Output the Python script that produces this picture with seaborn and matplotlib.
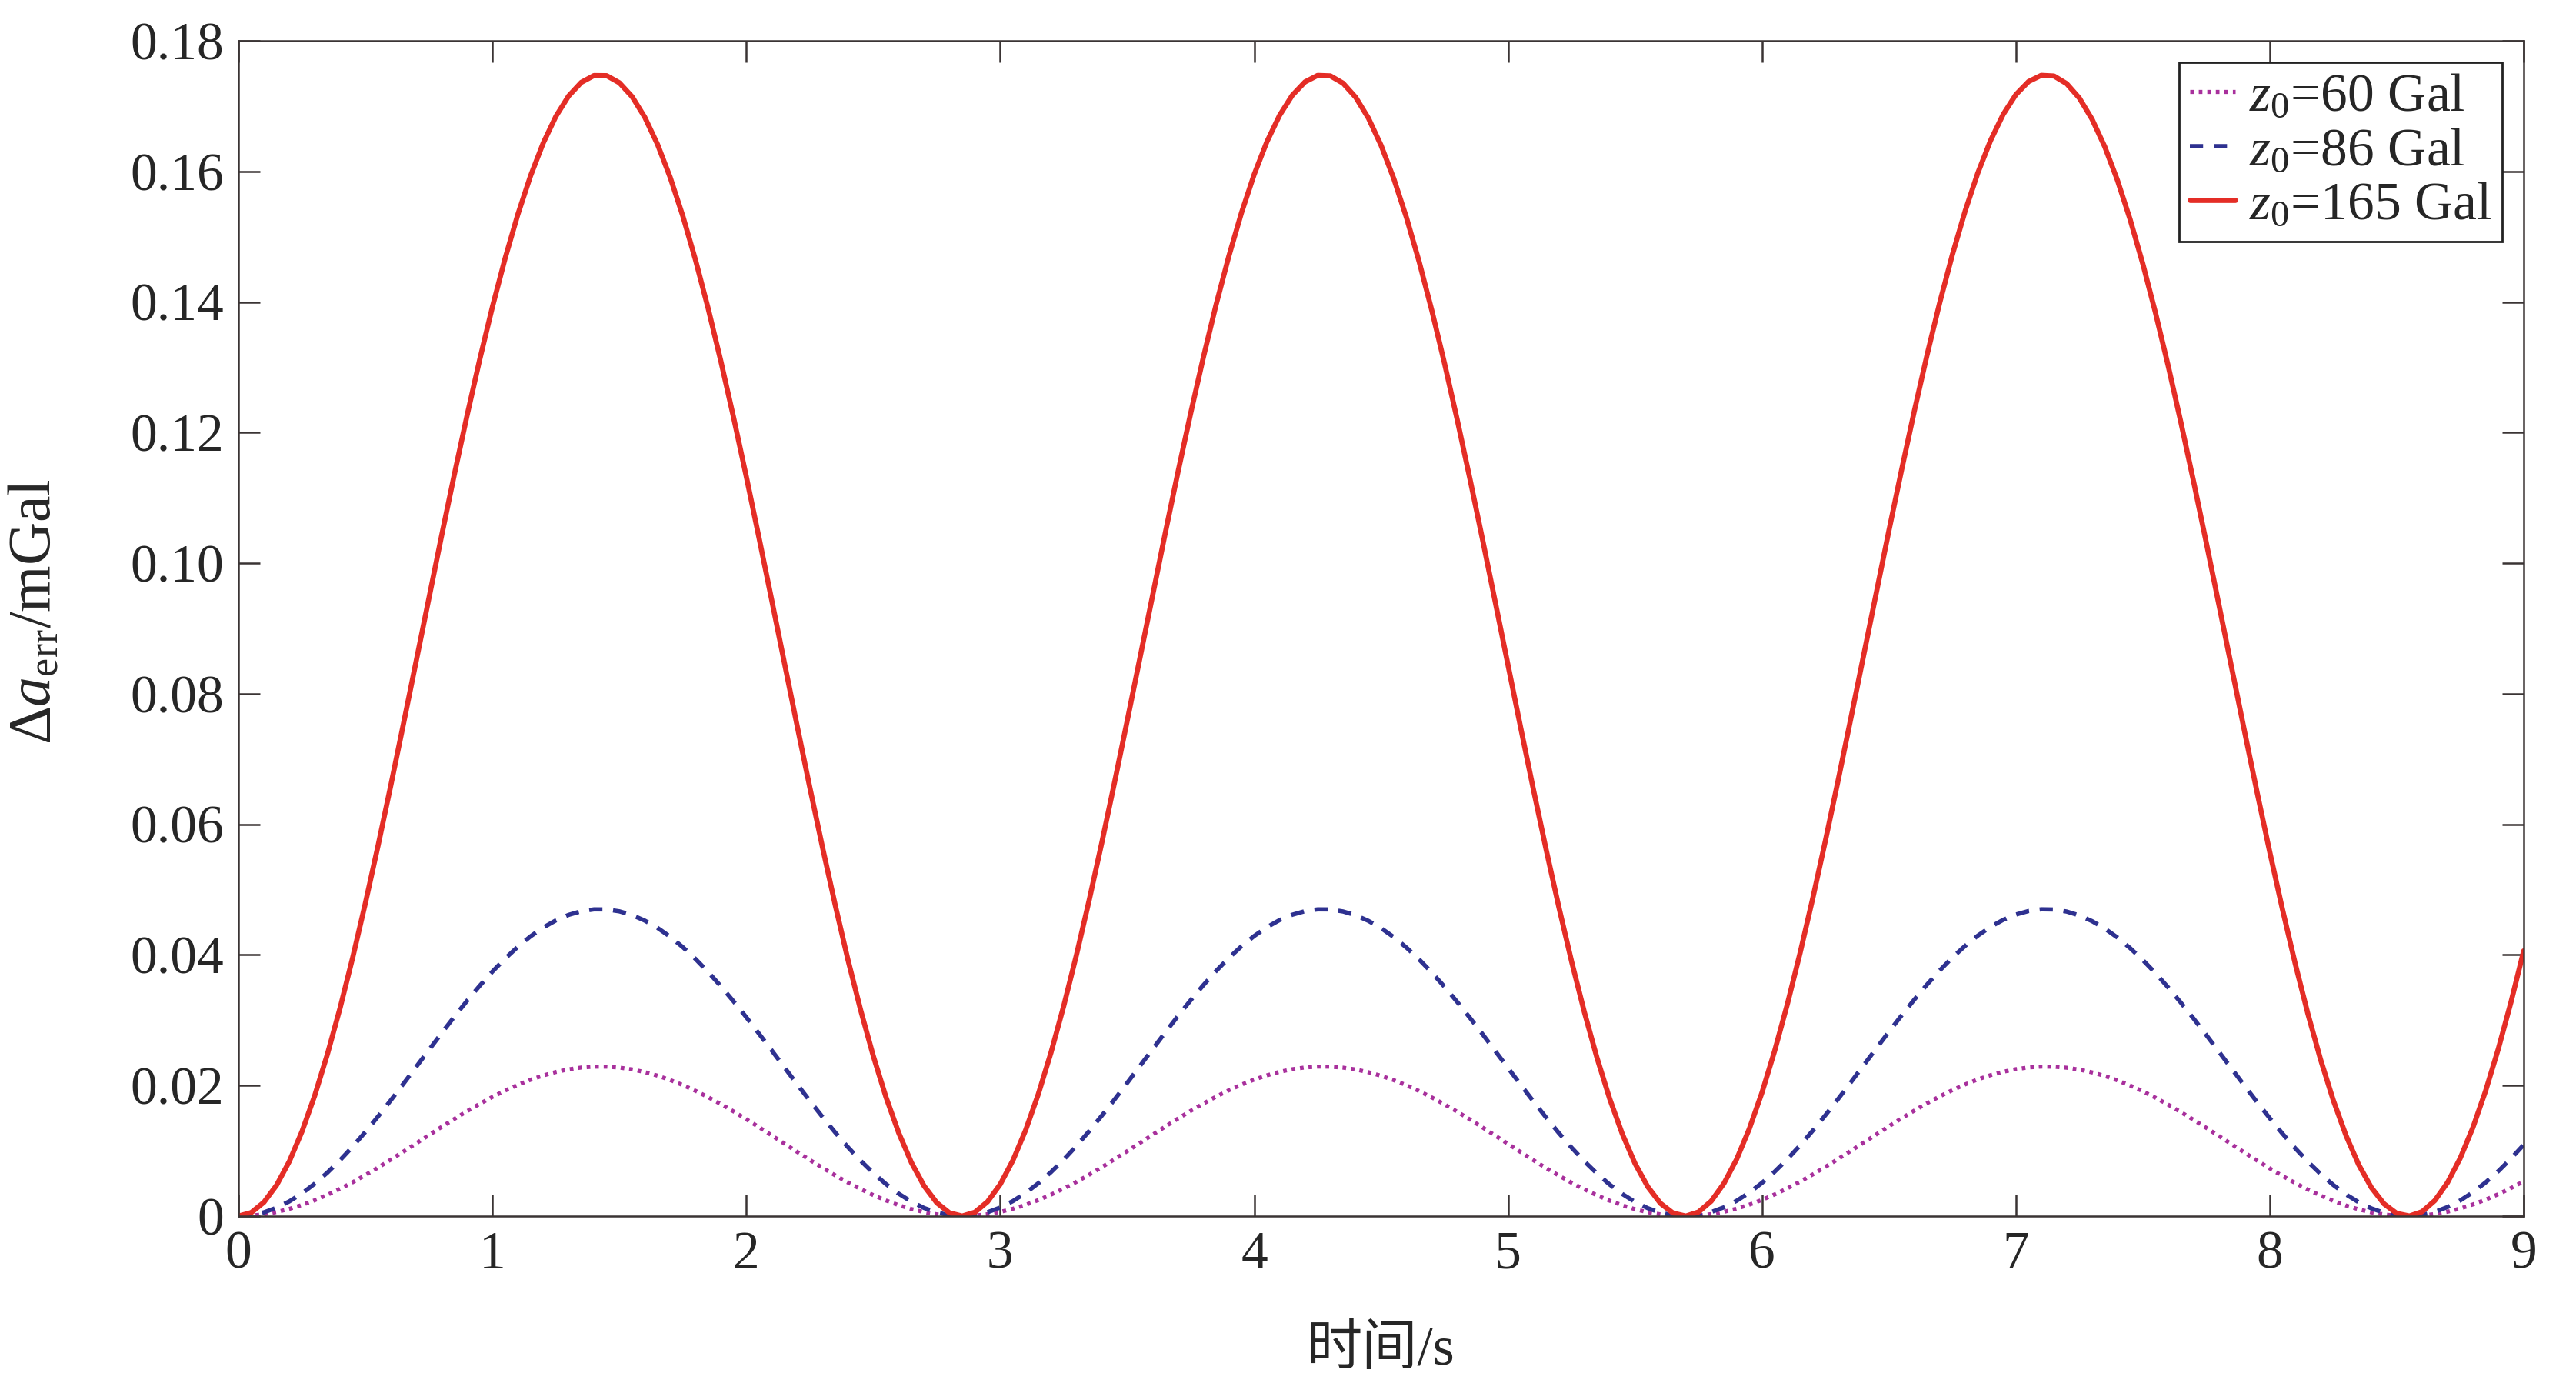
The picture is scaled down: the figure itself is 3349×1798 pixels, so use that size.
import numpy as np
import pandas as pd
import matplotlib
matplotlib.use("Agg")
import matplotlib.pyplot as plt
import seaborn as sns

# time axis (s): whole tenths, plus the midpoints between them
time_s = [
    0.0, 0.1, 0.2, 0.3, 0.4, 0.5, 0.6, 0.7, 0.8, 0.9,
    1.0, 1.1, 1.2, 1.3, 1.4, 1.5, 1.6, 1.7, 1.8, 1.9,
    2.0, 2.1, 2.2, 2.3, 2.4, 2.5, 2.6, 2.7, 2.8, 2.9,
    3.0, 3.1, 3.2, 3.3, 3.4, 3.5, 3.6, 3.7, 3.8, 3.9,
    4.0, 4.1, 4.2, 4.3, 4.4, 4.5, 4.6, 4.7, 4.8, 4.9,
    5.0, 5.1, 5.2, 5.3, 5.4, 5.5, 5.6, 5.7, 5.8, 5.9,
    6.0, 6.1, 6.2, 6.3, 6.4, 6.5, 6.6, 6.7, 6.8, 6.9,
    7.0, 7.1, 7.2, 7.3, 7.4, 7.5, 7.6, 7.7, 7.8, 7.9,
    8.0, 8.1, 8.2, 8.3, 8.4, 8.5, 8.6, 8.7, 8.8, 8.9,
    9.0,
]
time_mid_s = [
    0.05, 0.15, 0.25, 0.35, 0.45, 0.55, 0.65, 0.75, 0.85, 0.95,
    1.05, 1.15, 1.25, 1.35, 1.45, 1.55, 1.65, 1.75, 1.85, 1.95,
    2.05, 2.15, 2.25, 2.35, 2.45, 2.55, 2.65, 2.75, 2.85, 2.95,
    3.05, 3.15, 3.25, 3.35, 3.45, 3.55, 3.65, 3.75, 3.85, 3.95,
    4.05, 4.15, 4.25, 4.35, 4.45, 4.55, 4.65, 4.75, 4.85, 4.95,
    5.05, 5.15, 5.25, 5.35, 5.45, 5.55, 5.65, 5.75, 5.85, 5.95,
    6.05, 6.15, 6.25, 6.35, 6.45, 6.55, 6.65, 6.75, 6.85, 6.95,
    7.05, 7.15, 7.25, 7.35, 7.45, 7.55, 7.65, 7.75, 7.85, 7.95,
    8.05, 8.15, 8.25, 8.35, 8.45, 8.55, 8.65, 8.75, 8.85, 8.95,
]

# z0 = 165 Gal
err_165 = [
    0.00000, 0.00212, 0.00837, 0.01845, 0.03188, 0.04800, 0.06602, 0.08509, 0.10426, 0.12262,
    0.13927, 0.15341, 0.16435, 0.17155, 0.17468, 0.17357, 0.16829, 0.15909, 0.14641, 0.13088,
    0.11324, 0.09434, 0.07510, 0.05647, 0.03928, 0.02452, 0.01276, 0.00462, 0.00049, 0.00058,
    0.00487, 0.01316, 0.02506, 0.03997, 0.05719, 0.07586, 0.09510, 0.11397, 0.13154, 0.14698,
    0.15953, 0.16858, 0.17370, 0.17463, 0.17134, 0.16397, 0.15290, 0.13865, 0.12191, 0.10351,
    0.08432, 0.06528, 0.04731, 0.03129, 0.01798, 0.00804, 0.00195, 0.00000, 0.00229, 0.00870,
    0.01893, 0.03248, 0.04869, 0.06677, 0.08586, 0.10502, 0.12332, 0.13989, 0.15391, 0.16471,
    0.17176, 0.17471, 0.17344, 0.16800, 0.15865, 0.14584, 0.13021, 0.11249, 0.09357, 0.07434,
    0.05574, 0.03868, 0.02398, 0.01236, 0.00437, 0.00041, 0.00067, 0.00513, 0.01357, 0.02560,
    0.04062,
]
err_165_mid = [
    0.00053, 0.00474, 0.01296, 0.02479, 0.03965, 0.05682, 0.07548, 0.09472, 0.11360, 0.13121,
    0.14670, 0.15931, 0.16844, 0.17364, 0.17466, 0.17145, 0.16416, 0.15315, 0.13896, 0.12227,
    0.10388, 0.08470, 0.06565, 0.04765, 0.03158, 0.01822, 0.00821, 0.00204, 0.00000, 0.00220,
    0.00854, 0.01869, 0.03218, 0.04834, 0.06640, 0.08547, 0.10464, 0.12297, 0.13958, 0.15366,
    0.16453, 0.17165, 0.17470, 0.17351, 0.16815, 0.15887, 0.14613, 0.13054, 0.11286, 0.09395,
    0.07472, 0.05610, 0.03900, 0.02425, 0.01256, 0.00450, 0.00045, 0.00062, 0.00500, 0.01337,
    0.02533, 0.04030, 0.05755, 0.07625, 0.09549, 0.11433, 0.13188, 0.14726, 0.15975, 0.16873,
    0.17376, 0.17461, 0.17123, 0.16379, 0.15264, 0.13833, 0.12156, 0.10313, 0.08393, 0.06490,
    0.04697, 0.03099, 0.01775, 0.00788, 0.00187, 0.00001, 0.00238, 0.00887, 0.01917, 0.03278,
]

# z0 = 86 Gal
err_86 = [
    0.00000, 0.00057, 0.00225, 0.00496, 0.00857, 0.01291, 0.01775, 0.02288, 0.02803, 0.03297,
    0.03745, 0.04125, 0.04419, 0.04613, 0.04697, 0.04667, 0.04525, 0.04278, 0.03937, 0.03519,
    0.03045, 0.02537, 0.02019, 0.01518, 0.01056, 0.00659, 0.00343, 0.00124, 0.00013, 0.00015,
    0.00131, 0.00354, 0.00674, 0.01075, 0.01538, 0.02040, 0.02557, 0.03064, 0.03537, 0.03952,
    0.04289, 0.04533, 0.04670, 0.04696, 0.04607, 0.04409, 0.04111, 0.03728, 0.03278, 0.02783,
    0.02267, 0.01755, 0.01272, 0.00841, 0.00483, 0.00216, 0.00052, 0.00000, 0.00062, 0.00234,
    0.00509, 0.00873, 0.01309, 0.01795, 0.02309, 0.02824, 0.03316, 0.03761, 0.04138, 0.04429,
    0.04618, 0.04698, 0.04664, 0.04517, 0.04266, 0.03921, 0.03501, 0.03025, 0.02516, 0.01999,
    0.01499, 0.01040, 0.00645, 0.00332, 0.00118, 0.00011, 0.00018, 0.00138, 0.00365, 0.00688,
    0.01092,
]
err_86_mid = [
    0.00014, 0.00128, 0.00348, 0.00666, 0.01066, 0.01528, 0.02030, 0.02547, 0.03054, 0.03528,
    0.03944, 0.04284, 0.04529, 0.04669, 0.04696, 0.04610, 0.04414, 0.04118, 0.03736, 0.03287,
    0.02793, 0.02277, 0.01765, 0.01281, 0.00849, 0.00490, 0.00221, 0.00055, 0.00000, 0.00059,
    0.00230, 0.00503, 0.00865, 0.01300, 0.01785, 0.02298, 0.02814, 0.03306, 0.03753, 0.04132,
    0.04424, 0.04615, 0.04697, 0.04665, 0.04521, 0.04272, 0.03929, 0.03510, 0.03035, 0.02526,
    0.02009, 0.01508, 0.01049, 0.00652, 0.00338, 0.00121, 0.00012, 0.00017, 0.00134, 0.00359,
    0.00681, 0.01083, 0.01547, 0.02050, 0.02567, 0.03074, 0.03546, 0.03960, 0.04295, 0.04537,
    0.04672, 0.04695, 0.04604, 0.04404, 0.04104, 0.03720, 0.03268, 0.02773, 0.02257, 0.01745,
    0.01263, 0.00833, 0.00477, 0.00212, 0.00050, 0.00000, 0.00064, 0.00239, 0.00515, 0.00881,
]

# z0 = 60 Gal
err_60 = [
    0.00000, 0.00028, 0.00110, 0.00242, 0.00418, 0.00629, 0.00865, 0.01115, 0.01366, 0.01606,
    0.01825, 0.02010, 0.02153, 0.02247, 0.02288, 0.02274, 0.02205, 0.02084, 0.01918, 0.01715,
    0.01483, 0.01236, 0.00984, 0.00740, 0.00515, 0.00321, 0.00167, 0.00061, 0.00006, 0.00008,
    0.00064, 0.00172, 0.00328, 0.00524, 0.00749, 0.00994, 0.01246, 0.01493, 0.01723, 0.01926,
    0.02090, 0.02209, 0.02276, 0.02288, 0.02245, 0.02148, 0.02003, 0.01816, 0.01597, 0.01356,
    0.01105, 0.00855, 0.00620, 0.00410, 0.00236, 0.00105, 0.00026, 0.00000, 0.00030, 0.00114,
    0.00248, 0.00425, 0.00638, 0.00875, 0.01125, 0.01376, 0.01616, 0.01833, 0.02016, 0.02158,
    0.02250, 0.02289, 0.02272, 0.02201, 0.02078, 0.01911, 0.01706, 0.01474, 0.01226, 0.00974,
    0.00730, 0.00507, 0.00314, 0.00162, 0.00057, 0.00005, 0.00009, 0.00067, 0.00178, 0.00335,
    0.00532,
]
err_60_mid = [
    0.00007, 0.00062, 0.00170, 0.00325, 0.00519, 0.00744, 0.00989, 0.01241, 0.01488, 0.01719,
    0.01922, 0.02087, 0.02207, 0.02275, 0.02288, 0.02246, 0.02151, 0.02006, 0.01820, 0.01602,
    0.01361, 0.01110, 0.00860, 0.00624, 0.00414, 0.00239, 0.00108, 0.00027, 0.00000, 0.00029,
    0.00112, 0.00245, 0.00422, 0.00633, 0.00870, 0.01120, 0.01371, 0.01611, 0.01829, 0.02013,
    0.02155, 0.02249, 0.02289, 0.02273, 0.02203, 0.02081, 0.01914, 0.01710, 0.01479, 0.01231,
    0.00979, 0.00735, 0.00511, 0.00318, 0.00165, 0.00059, 0.00006, 0.00008, 0.00065, 0.00175,
    0.00332, 0.00528, 0.00754, 0.00999, 0.01251, 0.01498, 0.01728, 0.01929, 0.02093, 0.02210,
    0.02276, 0.02287, 0.02243, 0.02146, 0.02000, 0.01812, 0.01592, 0.01351, 0.01100, 0.00850,
    0.00615, 0.00406, 0.00233, 0.00103, 0.00025, 0.00000, 0.00031, 0.00116, 0.00251, 0.00429,
]

series_labels = ["$z_0$=60 Gal", "$z_0$=86 Gal", "$z_0$=165 Gal"]
x_ticks = [0, 1, 2, 3, 4, 5, 6, 7, 8, 9]
y_ticks = [0, 0.02, 0.04, 0.06, 0.08, 0.10, 0.12, 0.14, 0.16, 0.18]

sns.set_style("ticks")
plt.rcParams["font.family"] = ["Liberation Serif", "Noto Sans CJK SC"]
plt.rcParams["mathtext.fontset"] = "custom"
plt.rcParams["mathtext.rm"] = "Liberation Serif"
plt.rcParams["mathtext.it"] = "Liberation Serif:italic"

df = pd.concat([
    pd.DataFrame({"t": time_s, "z60": err_60, "z86": err_86, "z165": err_165}),
    pd.DataFrame({"t": time_mid_s, "z60": err_60_mid, "z86": err_86_mid, "z165": err_165_mid}),
]).sort_values("t").reset_index(drop=True)

fig = plt.figure(figsize=(33.49, 17.98), dpi=100)
ax = fig.add_axes([0.0926, 0.1207, 0.8871, 0.8498])

sns.lineplot(data=df, x="t", y="z60", ax=ax, color="#a8309c", lw=3.8, sort=False,
             linestyle=(0, (0.9, 1.2)), label=series_labels[0])
sns.lineplot(data=df, x="t", y="z86", ax=ax, color="#2e3190", lw=4.0, sort=False,
             linestyle=(0, (3.1, 2.5)), label=series_labels[1])
sns.lineplot(data=df, x="t", y="z165", ax=ax, color="#e42d26", lw=4.8, sort=False,
             linestyle="-", label=series_labels[2])

ax.set_xlim(0, 9)
ax.set_ylim(0, 0.18)
ax.set_xticks(x_ticks)
ax.set_xticklabels([str(v) for v in x_ticks])
ax.set_yticks(y_ticks)
ax.set_yticklabels(["0" if v == 0 else f"{v:.2f}" for v in y_ticks])
ax.set_xlabel("")
ax.set_ylabel("")

for s in ax.spines.values():
    s.set_visible(True)
    s.set_color("#3a3434")
    s.set_linewidth(1.8)
ax.tick_params(direction="in", top=True, right=True, length=20, width=1.8,
               color="#3a3434", labelsize=50, pad=14)

leg = ax.legend(loc="upper right", bbox_to_anchor=(0.9906, 0.9817), fontsize=50,
                frameon=True, fancybox=False, edgecolor="#222222", framealpha=1,
                borderpad=0.2, labelspacing=0.1, handlelength=0.85,
                handletextpad=0.25, borderaxespad=0)
leg.get_frame().set_linewidth(2.0)

fig.text(0.014, 0.558, "Δ$\\mathit{a}_{\\mathrm{err}}$/mGal", rotation=90,
         ha="center", va="center", fontsize=56)
fig.text(0.5357, 0.0234, "时间/s", ha="center", va="center", fontsize=52)

fig.savefig("out.png", dpi=100)
